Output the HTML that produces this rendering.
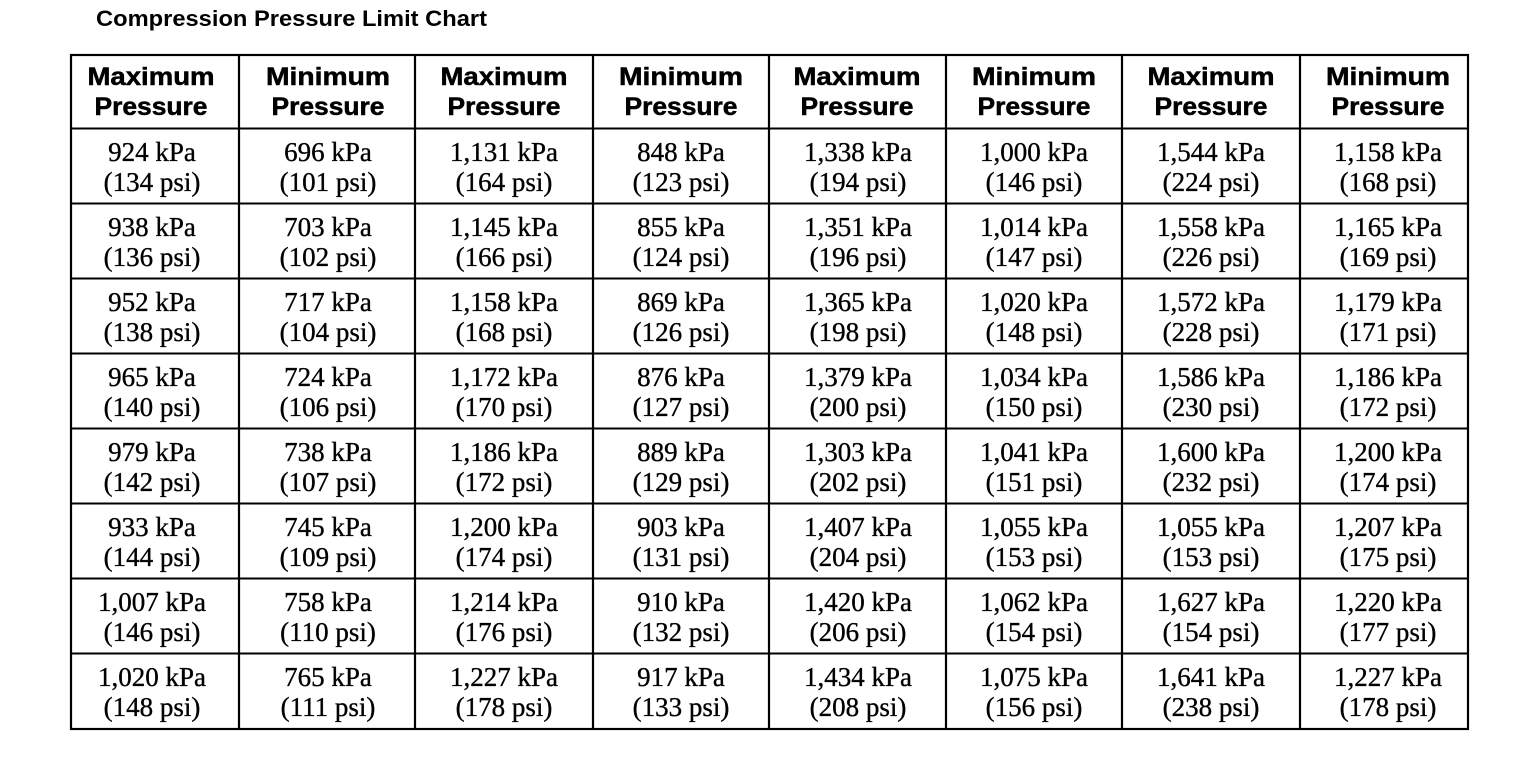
<!DOCTYPE html>
<html><head><meta charset="utf-8"><style>
html,body{margin:0;padding:0;background:#fff;}
svg{display:block}
.t{font-family:"Liberation Sans",sans-serif;font-weight:bold;font-size:22px}
.h{font-family:"Liberation Sans",sans-serif;font-weight:bold;font-size:25px;text-anchor:middle;stroke:#000;stroke-width:0.5}
.d{font-family:"Liberation Serif",serif;font-size:27px;text-anchor:middle;stroke:#000;stroke-width:0.35}
</style></head><body>
<svg width="1520" height="780" viewBox="0 0 1520 780" xmlns="http://www.w3.org/2000/svg">
<text class="t" x="96" y="26" textLength="391" lengthAdjust="spacingAndGlyphs">Compression Pressure Limit Chart</text>
<g stroke="#000" fill="none">
<rect x="71" y="55" width="1397" height="674" stroke-width="2.2"/>
<g stroke-width="2.2">
<line x1="239" y1="54" x2="239" y2="730"/><line x1="415" y1="54" x2="415" y2="730"/>
<line x1="593" y1="54" x2="593" y2="730"/><line x1="769" y1="54" x2="769" y2="730"/>
<line x1="946" y1="54" x2="946" y2="730"/><line x1="1122" y1="54" x2="1122" y2="730"/>
<line x1="1300" y1="54" x2="1300" y2="730"/>
</g>
<g stroke-width="2">
<line x1="70" y1="128.5" x2="1468" y2="128.5"/><line x1="70" y1="203.5" x2="1468" y2="203.5"/>
<line x1="70" y1="278.5" x2="1468" y2="278.5"/><line x1="70" y1="353.5" x2="1468" y2="353.5"/>
<line x1="70" y1="428.5" x2="1468" y2="428.5"/><line x1="70" y1="503.5" x2="1468" y2="503.5"/>
<line x1="70" y1="578.5" x2="1468" y2="578.5"/><line x1="70" y1="653.5" x2="1468" y2="653.5"/>
</g>
</g>
<g class="h">
<text x="151" y="85" textLength="127" lengthAdjust="spacingAndGlyphs">Maximum</text><text x="151" y="115" textLength="113" lengthAdjust="spacingAndGlyphs">Pressure</text>
<text x="328" y="85" textLength="124" lengthAdjust="spacingAndGlyphs">Minimum</text><text x="328" y="115" textLength="113" lengthAdjust="spacingAndGlyphs">Pressure</text>
<text x="504" y="85" textLength="127" lengthAdjust="spacingAndGlyphs">Maximum</text><text x="504" y="115" textLength="113" lengthAdjust="spacingAndGlyphs">Pressure</text>
<text x="681" y="85" textLength="124" lengthAdjust="spacingAndGlyphs">Minimum</text><text x="681" y="115" textLength="113" lengthAdjust="spacingAndGlyphs">Pressure</text>
<text x="857" y="85" textLength="127" lengthAdjust="spacingAndGlyphs">Maximum</text><text x="857" y="115" textLength="113" lengthAdjust="spacingAndGlyphs">Pressure</text>
<text x="1034" y="85" textLength="124" lengthAdjust="spacingAndGlyphs">Minimum</text><text x="1034" y="115" textLength="113" lengthAdjust="spacingAndGlyphs">Pressure</text>
<text x="1211" y="85" textLength="127" lengthAdjust="spacingAndGlyphs">Maximum</text><text x="1211" y="115" textLength="113" lengthAdjust="spacingAndGlyphs">Pressure</text>
<text x="1388" y="85" textLength="124" lengthAdjust="spacingAndGlyphs">Minimum</text><text x="1388" y="115" textLength="113" lengthAdjust="spacingAndGlyphs">Pressure</text>
</g>
<g class="d">
<g transform="translate(0,128)">
<text x="152" y="33">924 kPa</text><text x="152" y="63">(134 psi)</text>
<text x="328" y="33">696 kPa</text><text x="328" y="63">(101 psi)</text>
<text x="504" y="33">1,131 kPa</text><text x="504" y="63">(164 psi)</text>
<text x="681" y="33">848 kPa</text><text x="681" y="63">(123 psi)</text>
<text x="858" y="33">1,338 kPa</text><text x="858" y="63">(194 psi)</text>
<text x="1034" y="33">1,000 kPa</text><text x="1034" y="63">(146 psi)</text>
<text x="1211" y="33">1,544 kPa</text><text x="1211" y="63">(224 psi)</text>
<text x="1388" y="33">1,158 kPa</text><text x="1388" y="63">(168 psi)</text>
</g>
<g transform="translate(0,203)">
<text x="152" y="33">938 kPa</text><text x="152" y="63">(136 psi)</text>
<text x="328" y="33">703 kPa</text><text x="328" y="63">(102 psi)</text>
<text x="504" y="33">1,145 kPa</text><text x="504" y="63">(166 psi)</text>
<text x="681" y="33">855 kPa</text><text x="681" y="63">(124 psi)</text>
<text x="858" y="33">1,351 kPa</text><text x="858" y="63">(196 psi)</text>
<text x="1034" y="33">1,014 kPa</text><text x="1034" y="63">(147 psi)</text>
<text x="1211" y="33">1,558 kPa</text><text x="1211" y="63">(226 psi)</text>
<text x="1388" y="33">1,165 kPa</text><text x="1388" y="63">(169 psi)</text>
</g>
<g transform="translate(0,278)">
<text x="152" y="33">952 kPa</text><text x="152" y="63">(138 psi)</text>
<text x="328" y="33">717 kPa</text><text x="328" y="63">(104 psi)</text>
<text x="504" y="33">1,158 kPa</text><text x="504" y="63">(168 psi)</text>
<text x="681" y="33">869 kPa</text><text x="681" y="63">(126 psi)</text>
<text x="858" y="33">1,365 kPa</text><text x="858" y="63">(198 psi)</text>
<text x="1034" y="33">1,020 kPa</text><text x="1034" y="63">(148 psi)</text>
<text x="1211" y="33">1,572 kPa</text><text x="1211" y="63">(228 psi)</text>
<text x="1388" y="33">1,179 kPa</text><text x="1388" y="63">(171 psi)</text>
</g>
<g transform="translate(0,353)">
<text x="152" y="33">965 kPa</text><text x="152" y="63">(140 psi)</text>
<text x="328" y="33">724 kPa</text><text x="328" y="63">(106 psi)</text>
<text x="504" y="33">1,172 kPa</text><text x="504" y="63">(170 psi)</text>
<text x="681" y="33">876 kPa</text><text x="681" y="63">(127 psi)</text>
<text x="858" y="33">1,379 kPa</text><text x="858" y="63">(200 psi)</text>
<text x="1034" y="33">1,034 kPa</text><text x="1034" y="63">(150 psi)</text>
<text x="1211" y="33">1,586 kPa</text><text x="1211" y="63">(230 psi)</text>
<text x="1388" y="33">1,186 kPa</text><text x="1388" y="63">(172 psi)</text>
</g>
<g transform="translate(0,428)">
<text x="152" y="33">979 kPa</text><text x="152" y="63">(142 psi)</text>
<text x="328" y="33">738 kPa</text><text x="328" y="63">(107 psi)</text>
<text x="504" y="33">1,186 kPa</text><text x="504" y="63">(172 psi)</text>
<text x="681" y="33">889 kPa</text><text x="681" y="63">(129 psi)</text>
<text x="858" y="33">1,303 kPa</text><text x="858" y="63">(202 psi)</text>
<text x="1034" y="33">1,041 kPa</text><text x="1034" y="63">(151 psi)</text>
<text x="1211" y="33">1,600 kPa</text><text x="1211" y="63">(232 psi)</text>
<text x="1388" y="33">1,200 kPa</text><text x="1388" y="63">(174 psi)</text>
</g>
<g transform="translate(0,503)">
<text x="152" y="33">933 kPa</text><text x="152" y="63">(144 psi)</text>
<text x="328" y="33">745 kPa</text><text x="328" y="63">(109 psi)</text>
<text x="504" y="33">1,200 kPa</text><text x="504" y="63">(174 psi)</text>
<text x="681" y="33">903 kPa</text><text x="681" y="63">(131 psi)</text>
<text x="858" y="33">1,407 kPa</text><text x="858" y="63">(204 psi)</text>
<text x="1034" y="33">1,055 kPa</text><text x="1034" y="63">(153 psi)</text>
<text x="1211" y="33">1,055 kPa</text><text x="1211" y="63">(153 psi)</text>
<text x="1388" y="33">1,207 kPa</text><text x="1388" y="63">(175 psi)</text>
</g>
<g transform="translate(0,578)">
<text x="152" y="33">1,007 kPa</text><text x="152" y="63">(146 psi)</text>
<text x="328" y="33">758 kPa</text><text x="328" y="63">(110 psi)</text>
<text x="504" y="33">1,214 kPa</text><text x="504" y="63">(176 psi)</text>
<text x="681" y="33">910 kPa</text><text x="681" y="63">(132 psi)</text>
<text x="858" y="33">1,420 kPa</text><text x="858" y="63">(206 psi)</text>
<text x="1034" y="33">1,062 kPa</text><text x="1034" y="63">(154 psi)</text>
<text x="1211" y="33">1,627 kPa</text><text x="1211" y="63">(154 psi)</text>
<text x="1388" y="33">1,220 kPa</text><text x="1388" y="63">(177 psi)</text>
</g>
<g transform="translate(0,653)">
<text x="152" y="33">1,020 kPa</text><text x="152" y="63">(148 psi)</text>
<text x="328" y="33">765 kPa</text><text x="328" y="63">(111 psi)</text>
<text x="504" y="33">1,227 kPa</text><text x="504" y="63">(178 psi)</text>
<text x="681" y="33">917 kPa</text><text x="681" y="63">(133 psi)</text>
<text x="858" y="33">1,434 kPa</text><text x="858" y="63">(208 psi)</text>
<text x="1034" y="33">1,075 kPa</text><text x="1034" y="63">(156 psi)</text>
<text x="1211" y="33">1,641 kPa</text><text x="1211" y="63">(238 psi)</text>
<text x="1388" y="33">1,227 kPa</text><text x="1388" y="63">(178 psi)</text>
</g>
</g>
</svg>
</body></html>
